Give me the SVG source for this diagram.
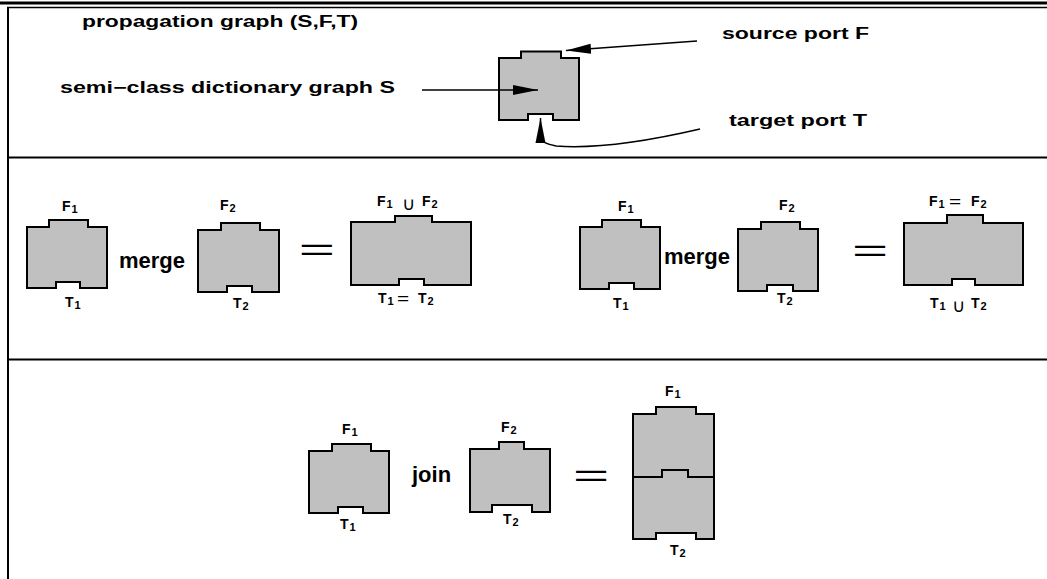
<svg xmlns="http://www.w3.org/2000/svg" width="1047" height="579" viewBox="0 0 1047 579">
<defs>
<style>
.shape{fill:#c0c0c0;stroke:#000;stroke-width:2;stroke-linejoin:miter}
.frame{stroke:#000;fill:none}
.t{font-family:"Liberation Sans",Arial,sans-serif;font-weight:bold;fill:#000}
.top{font-size:16px}
.lbl{font-size:14px}
.sub{font-size:11px}
.big{font-size:22px}
.eq{font-family:"Liberation Sans",Arial,sans-serif;font-size:31px;fill:#000}
.eqs{font-family:"Liberation Sans",Arial,sans-serif;font-size:16px;fill:#000}
.sym{font-family:"DejaVu Sans",sans-serif;font-weight:normal;font-size:18px;fill:#000}
.conn{stroke:#000;stroke-width:1.5;fill:none}
</style>
<marker id="arr" markerUnits="userSpaceOnUse" markerWidth="26" markerHeight="12" refX="25" refY="6" orient="auto">
<path d="M0,1 L25,6 L0,11 Z" fill="#000"/>
</marker>
</defs>
<rect width="1047" height="579" fill="#fff"/>
<g id="frame">
<line class="frame" x1="0" y1="3" x2="1047" y2="3" stroke-width="3"/>
<line class="frame" x1="7" y1="7.5" x2="1047" y2="7.5" stroke-width="1.5"/>
<line class="frame" x1="8" y1="7" x2="8" y2="579" stroke-width="2"/>
<line class="frame" x1="8" y1="157.5" x2="1047" y2="157.5" stroke-width="2"/>
<line class="frame" x1="8" y1="359.5" x2="1047" y2="359.5" stroke-width="2"/>
</g>

<g id="top-texts">
<text class="t top" x="82" y="27" textLength="276" lengthAdjust="spacingAndGlyphs">propagation graph (S,F,T)</text>
<text class="t top" x="722" y="39" textLength="147" lengthAdjust="spacingAndGlyphs">source port F</text>
<text class="t top" x="60" y="93" textLength="335" lengthAdjust="spacingAndGlyphs">semi−class dictionary graph S</text>
<text class="t top" x="729" y="126" textLength="138" lengthAdjust="spacingAndGlyphs">target port T</text>
</g>

<g id="node-S">
<path class="shape" d="M499,58 H521 V51.5 H561 V58 H579 V120 H553 V114 H528 V120 H499 Z"/>
</g>

<g id="connectors">
<line class="conn" x1="697" y1="41" x2="566" y2="50.5" marker-end="url(#arr)"/>
<line class="conn" x1="422" y1="90" x2="538" y2="90" marker-end="url(#arr)"/>
<path class="conn" d="M700,129 Q610,150 556,146 Q541,143 540.5,138 L540.5,118" marker-end="url(#arr)"/>
</g>

<g id="node-A1">
<path class="shape" d="M27,227 H49 V220 H88 V227 H107 V288 H80 V282 H56 V288 H27 Z"/>
<text class="t lbl" x="62" y="211">F<tspan class="sub" dx="1" dy="2">1</tspan></text>
<text class="t lbl" x="65" y="307">T<tspan class="sub" dx="1" dy="2">1</tspan></text>
</g>
<text class="t big" x="119" y="268">merge</text>
<g id="node-A2">
<path class="shape" d="M198,230 H221 V223 H260 V230 H279 V292 H252 V286 H227 V292 H198 Z"/>
<text class="t lbl" x="220" y="210">F<tspan class="sub" dx="1" dy="2">2</tspan></text>
<text class="t lbl" x="233" y="308">T<tspan class="sub" dx="1" dy="2">2</tspan></text>
</g>
<text class="eq" transform="translate(298.7,260) scale(2,1)">=</text>
<g id="node-A3">
<path class="shape" d="M351,222 H395 V216 H432 V222 H471 V285 H424 V279 H399 V285 H351 Z"/>
<text class="t lbl" x="377" y="206">F<tspan class="sub" dx="1" dy="2">1</tspan></text>
<text class="sym" x="402" y="210">∪</text>
<text class="t lbl" x="422" y="206">F<tspan class="sub" dx="1" dy="2">2</tspan></text>
<text class="t lbl" x="378" y="303">T<tspan class="sub" dx="1" dy="2">1</tspan></text>
<text class="eqs" transform="translate(397,304) scale(1.3,1)">=</text>
<text class="t lbl" x="418" y="303">T<tspan class="sub" dx="1" dy="2">2</tspan></text>
</g>

<g id="node-B1">
<path class="shape" d="M580,227 H602 V220 H641 V227 H660 V289 H634 V283 H609 V289 H580 Z"/>
<text class="t lbl" x="618" y="211">F<tspan class="sub" dx="1" dy="2">1</tspan></text>
<text class="t lbl" x="613" y="308">T<tspan class="sub" dx="1" dy="2">1</tspan></text>
</g>
<text class="t big" x="664" y="264">merge</text>
<g id="node-B2">
<path class="shape" d="M738,229 H761 V222 H800 V229 H818 V291 H793 V285 H767 V291 H738 Z"/>
<text class="t lbl" x="779" y="210">F<tspan class="sub" dx="1" dy="2">2</tspan></text>
<text class="t lbl" x="777" y="303">T<tspan class="sub" dx="1" dy="2">2</tspan></text>
</g>
<text class="eq" transform="translate(852,260.5) scale(2,1)">=</text>
<g id="node-B3">
<path class="shape" d="M904,223 H947 V215 H983 V223 H1023 V285 H975 V279 H952 V285 H904 Z"/>
<text class="t lbl" x="929" y="206">F<tspan class="sub" dx="1" dy="2">1</tspan></text>
<text class="eqs" transform="translate(949,207) scale(1.3,1)">=</text>
<text class="t lbl" x="971" y="206">F<tspan class="sub" dx="1" dy="2">2</tspan></text>
<text class="t lbl" x="930" y="308">T<tspan class="sub" dx="1" dy="2">1</tspan></text>
<text class="sym" x="952" y="312">∪</text>
<text class="t lbl" x="971" y="308">T<tspan class="sub" dx="1" dy="2">2</tspan></text>
</g>

<g id="node-C1">
<path class="shape" d="M309,451 H332 V444 H371 V451 H389 V513 H363 V507 H338 V513 H309 Z"/>
<text class="t lbl" x="342" y="434">F<tspan class="sub" dx="1" dy="2">1</tspan></text>
<text class="t lbl" x="340" y="529">T<tspan class="sub" dx="1" dy="2">1</tspan></text>
</g>
<text class="t big" x="412" y="482">join</text>
<g id="node-C2">
<path class="shape" d="M470,449 H499 V442 H524 V449 H550 V512 H532 V505 H492 V512 H470 Z"/>
<text class="t lbl" x="501" y="432">F<tspan class="sub" dx="1" dy="2">2</tspan></text>
<text class="t lbl" x="503" y="524">T<tspan class="sub" dx="1" dy="2">2</tspan></text>
</g>
<text class="eq" transform="translate(573,485.5) scale(2,1)">=</text>
<g id="node-C3">
<path class="shape" d="M633,414 H656 V407 H696 V414 H714 V539 H696 V533 H656 V539 H633 Z"/>
<path class="shape" style="fill:none" d="M633,477 H662 V470 H688 V477 H714"/>
<text class="t lbl" x="665" y="396">F<tspan class="sub" dx="1" dy="2">1</tspan></text>
<text class="t lbl" x="670" y="555">T<tspan class="sub" dx="1" dy="2">2</tspan></text>
</g>
</svg>
